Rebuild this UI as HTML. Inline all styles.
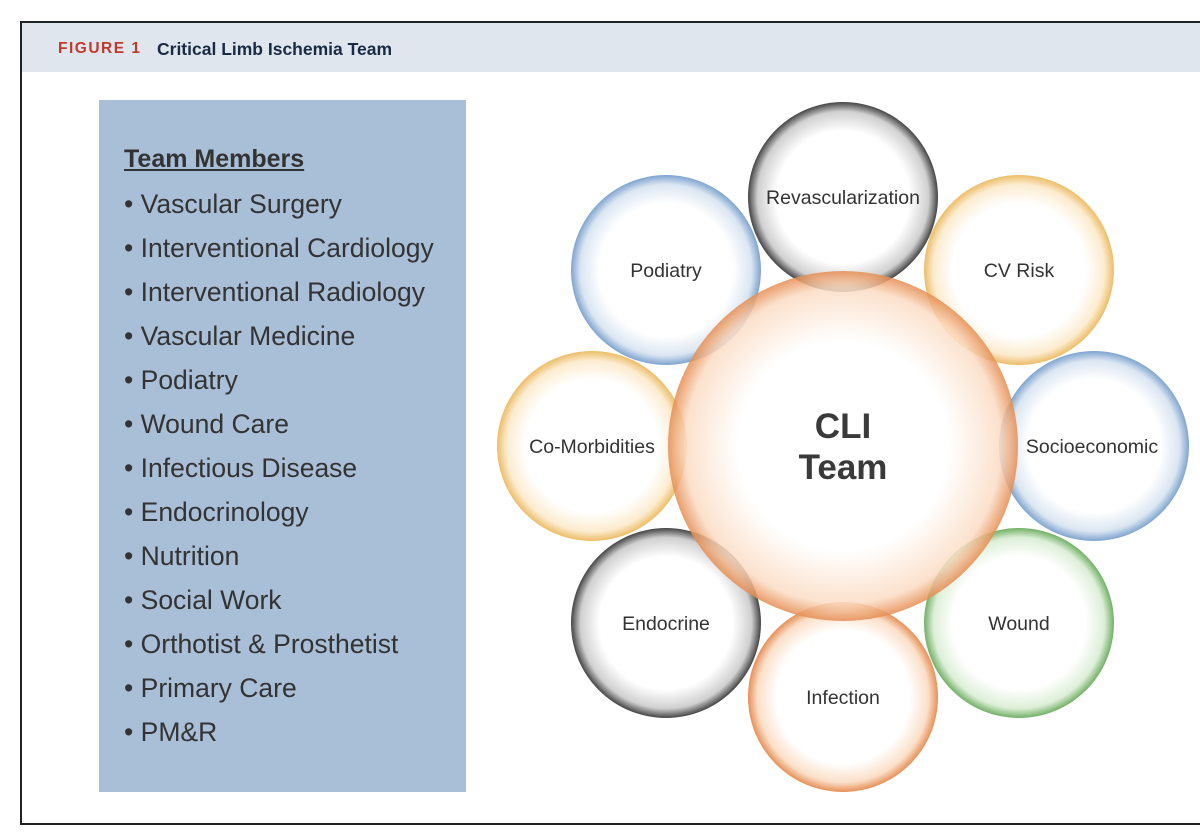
<!DOCTYPE html>
<html><head><meta charset="utf-8"><style>
body{margin:0;width:1200px;height:835px;background:#fff;position:relative;overflow:hidden;font-family:"Liberation Sans",sans-serif}
.frame{position:absolute;left:20px;top:21px;width:1200px;height:800px;border-left:2px solid #222;border-top:2px solid #222;border-bottom:2px solid #222}
.hdr{position:absolute;left:22px;top:23px;width:1200px;height:49px;background:#dfe6ee}
.hdr span{position:absolute;top:16px;font-weight:bold;font-size:17.5px}
.box{position:absolute;left:99px;top:100px;width:367px;height:692px;background:#a8bfd7;color:#333}
.box div{position:absolute;left:25px;font-size:26.5px;white-space:nowrap}
</style></head><body>
<div class="frame"></div>
<div class="hdr"><span style="left:36px;color:#c0392b;letter-spacing:1.5px;font-size:15.5px;top:17px">FIGURE 1</span><span style="left:135px;color:#1b2a44">Critical Limb Ischemia Team</span></div>
<div class="box">
<div style="top:45px;font-weight:bold;text-decoration:underline;font-size:25px">Team Members</div>
<div style="top:89px">• Vascular Surgery</div>
<div style="top:133px">• Interventional Cardiology</div>
<div style="top:177px">• Interventional Radiology</div>
<div style="top:221px">• Vascular Medicine</div>
<div style="top:265px">• Podiatry</div>
<div style="top:309px">• Wound Care</div>
<div style="top:353px">• Infectious Disease</div>
<div style="top:397px">• Endocrinology</div>
<div style="top:441px">• Nutrition</div>
<div style="top:485px">• Social Work</div>
<div style="top:529px">• Orthotist &amp; Prosthetist</div>
<div style="top:573px">• Primary Care</div>
<div style="top:617px">• PM&amp;R</div>
</div>
<svg width="1200" height="835" style="position:absolute;left:0;top:0">
<defs>
<radialGradient id="gk"><stop offset="0.7" stop-color="#fff"/><stop offset="0.9" stop-color="#d0d0d0"/><stop offset="1" stop-color="#444"/></radialGradient>
<radialGradient id="gb"><stop offset="0.7" stop-color="#fff"/><stop offset="0.9" stop-color="#dbe6f2"/><stop offset="1" stop-color="#7fa4cf"/></radialGradient>
<radialGradient id="gy"><stop offset="0.7" stop-color="#fff"/><stop offset="0.9" stop-color="#fcecd0"/><stop offset="1" stop-color="#ecbd68"/></radialGradient>
<radialGradient id="gg"><stop offset="0.7" stop-color="#fff"/><stop offset="0.9" stop-color="#ddefd8"/><stop offset="1" stop-color="#72b066"/></radialGradient>
<radialGradient id="go"><stop offset="0.7" stop-color="#fff"/><stop offset="0.9" stop-color="#fbdfc8"/><stop offset="1" stop-color="#e69058"/></radialGradient>
<radialGradient id="gc"><stop offset="0.6" stop-color="#fff"/><stop offset="0.9" stop-color="#fbdcc4"/><stop offset="1" stop-color="#e58c50"/></radialGradient>
</defs>
<circle cx="843" cy="197" r="95" fill="url(#gk)"/>
<circle cx="666" cy="270" r="95" fill="url(#gb)"/>
<circle cx="1019" cy="270" r="95" fill="url(#gy)"/>
<circle cx="592" cy="446" r="95" fill="url(#gy)"/>
<circle cx="1094" cy="446" r="95" fill="url(#gb)"/>
<circle cx="666" cy="623" r="95" fill="url(#gk)"/>
<circle cx="1019" cy="623" r="95" fill="url(#gg)"/>
<circle cx="843" cy="697" r="95" fill="url(#go)"/>
<circle cx="843" cy="446" r="175" fill="url(#gc)" opacity="0.85"/>
<g font-family="Liberation Sans,sans-serif" font-size="19.5" fill="#333" text-anchor="middle">
<text x="843" y="204">Revascularization</text>
<text x="666" y="277">Podiatry</text>
<text x="1019" y="277">CV Risk</text>
<text x="592" y="453">Co-Morbidities</text>
<text x="1092" y="453">Socioeconomic</text>
<text x="666" y="630">Endocrine</text>
<text x="1019" y="630">Wound</text>
<text x="843" y="704">Infection</text>
<text x="843" y="438" font-size="35" font-weight="bold" fill="#3a3a3a">CLI</text>
<text x="843" y="479" font-size="35" font-weight="bold" fill="#3a3a3a">Team</text>
</g>
</svg>
</body></html>
